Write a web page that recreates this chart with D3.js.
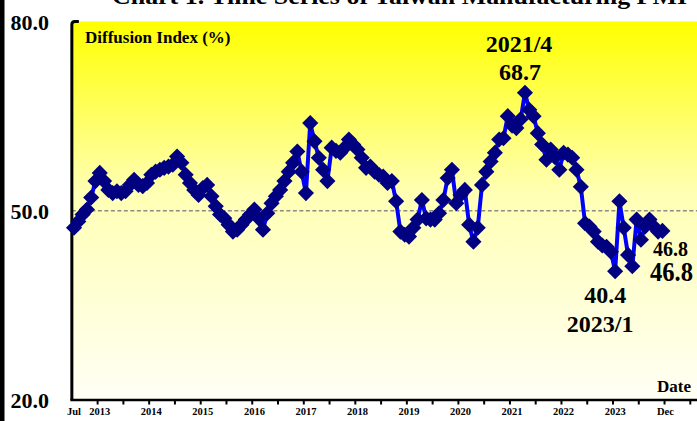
<!DOCTYPE html>
<html>
<head>
<meta charset="utf-8">
<script src="https://cdn.jsdelivr.net/npm/d3@7"></script>
<style>
  html, body { margin: 0; padding: 0; background: #ffffff; }
  svg { display: block; }
  text { font-family: "Liberation Serif", "Times New Roman", serif; font-weight: bold; fill: #000; }
</style>
</head>
<body>
<svg id="chart" width="697" height="421"></svg>
<script>
// ---- data (monthly, Jul 2012 .. Dec 2023) ----
const startLabel = "2012/7";
const pmi = [
  47.3, 48.3, 49.4, 50.2, 52.1, 54.7,                   // 2012 Jul-Dec
  56.0, 54.7, 53.3, 52.8, 53.1, 52.8, 53.1, 54.1, 54.9, 54.1, 53.9, 54.4, // 2013
  55.7, 56.2, 56.5, 56.8, 57.0, 57.3, 58.6, 57.6, 55.7, 54.4, 53.3, 52.5, // 2014
  53.6, 54.1, 52.3, 50.7, 49.4, 48.8, 47.8, 46.7, 47.0, 47.8, 48.6, 49.4, // 2015
  50.2, 48.8, 47.0, 49.6, 51.2, 52.3, 53.3, 54.7, 56.2, 57.6, 59.4, 56.2, // 2016
  52.8, 63.9, 61.0, 58.4, 56.5, 54.7, 60.0, 59.5, 59.2, 60.0, 61.3, 60.5, // 2017
  59.7, 58.4, 56.8, 57.0, 56.2, 55.7, 55.4, 54.4, 54.7, 51.5, 46.7, 46.2, // 2018
  45.9, 47.3, 48.6, 51.7, 48.8, 48.6, 48.6, 49.6, 51.7, 55.2, 56.5, 51.2, // 2019
  52.5, 53.3, 47.8, 45.1, 47.3, 54.1, 56.2, 57.8, 59.2, 61.3, 61.5, 65.0, // 2020
  63.5, 63.1, 64.5, 68.7, 66.0, 65.0, 62.3, 60.5, 58.1, 59.7, 58.5, 56.5, // 2021
  59.2, 58.9, 58.4, 56.5, 53.8, 48.0, 47.5, 46.7, 45.1, 44.5, 44.3, 43.5, // 2022
  40.4, 51.5, 47.3, 43.0, 41.2, 48.6, 45.4, 47.5, 48.6, 47.5, 46.7, 46.8  // 2023
];
const xLabels = ["Jul", "2013", "2014", "2015", "2016", "2017", "2018", "2019", "2020", "2021", "2022", "2023", "Dec"];
const xLabelIndex = [0, 6, 18, 30, 42, 54, 66, 78, 90, 102, 114, 126, 137];
const yTicks = [20, 50, 80];
const yTickLabels = ["20.0", "50.0", "80.0"];
const refLevel = 50;
const peakIndex = 105, peakLabel = "2021/4";
const troughIndex = 126, troughLabel = "2023/1";
const lastIndex = pmi.length - 1;

const W = 697, H = 421;
const svg = d3.select("#chart");

const x = d3.scaleLinear().domain([0, 137]).range([74, 662.4]);
const y = d3.scaleLinear().domain([20, 80]).range([400, 21.5]);

// gradient
const defs = svg.append("defs");
const grad = defs.append("linearGradient").attr("id", "bg").attr("x1", 0).attr("y1", 0).attr("x2", 0).attr("y2", 1);
grad.append("stop").attr("offset", "0%").attr("stop-color", "#ffff00");
grad.append("stop").attr("offset", "45%").attr("stop-color", "#ffffb4");
grad.append("stop").attr("offset", "100%").attr("stop-color", "#fffff6");

// title (clipped at top)
svg.append("text")
  .attr("x", 112).attr("y", 4)
  .attr("font-size", 24)
  .attr("textLength", 575).attr("lengthAdjust", "spacingAndGlyphs")
  .text("Chart 1. Time Series of Taiwan Manufacturing PMI");

// left black bar
svg.append("rect").attr("x", 0).attr("y", 0).attr("width", 4.5).attr("height", H).attr("fill", "#000");

// plot background
const x0 = x(-0.5);
svg.append("rect")
  .attr("x", x0).attr("y", y(80))
  .attr("width", W - x0).attr("height", y(20) - y(80))
  .attr("fill", "url(#bg)");

// reference dashed line at 50
svg.append("line")
  .attr("x1", x0).attr("x2", W)
  .attr("y1", y(refLevel)).attr("y2", y(refLevel))
  .attr("stroke", "#8a8a80").attr("stroke-width", 1.6)
  .attr("stroke-dasharray", "4,2.5");

// axes frame
svg.append("path")
  .attr("d", `M${x0},${y(20)} V${y(80) + 3} Q${x0},${y(80)} ${x0 + 3},${y(80)} H${x0 + 7}`)
  .attr("fill", "none").attr("stroke", "#000").attr("stroke-width", 3);
svg.append("line")
  .attr("x1", x0 - 1.5).attr("x2", W)
  .attr("y1", y(20)).attr("y2", y(20))
  .attr("stroke", "#000").attr("stroke-width", 2.6);

// x ticks every 6 months (at month boundaries)
const tickIdx = d3.range(5.5, 146, 6);
svg.selectAll(".xt").data(tickIdx).enter().append("line")
  .attr("x1", d => x(d)).attr("x2", d => x(d))
  .attr("y1", y(20)).attr("y2", y(20) + 4.5)
  .attr("stroke", "#000").attr("stroke-width", 2);

// x labels
svg.selectAll(".xl").data(xLabels).enter().append("text")
  .attr("x", (d, i) => x(xLabelIndex[i]) + (i === xLabels.length - 1 ? 3 : 0))
  .attr("y", 415)
  .attr("text-anchor", "middle")
  .attr("font-size", 10.5)
  .text(d => d);
svg.append("text")
  .attr("x", x(0)).attr("y", 428)
  .attr("text-anchor", "middle").attr("font-size", 10.5)
  .text(startLabel.split("/")[0]);

// y labels
svg.selectAll(".yl").data(yTicks).enter().append("text")
  .attr("x", 49)
  .attr("y", d => y(d) + 8)
  .attr("text-anchor", "end")
  .attr("font-size", 22)
  .text((d, i) => yTickLabels[i]);

// axis titles
svg.append("text").attr("x", 85).attr("y", 43).attr("font-size", 17).text("Diffusion Index (%)");
svg.append("text").attr("x", 657).attr("y", 392).attr("font-size", 17).text("Date");

// series line
const line = d3.line().x((d, i) => x(i)).y(d => y(d));
svg.append("path")
  .datum(pmi)
  .attr("d", line)
  .attr("fill", "none")
  .attr("stroke", "#0000ff")
  .attr("stroke-width", 4)
  .attr("stroke-linejoin", "round");

// markers
const sym = d3.symbol().type(d3.symbolSquare).size(130);
svg.selectAll(".pt").data(pmi).enter().append("path")
  .attr("d", sym)
  .attr("transform", (d, i) => `translate(${x(i)},${y(d)}) rotate(45)`)
  .attr("fill", "#000080");

// annotations
svg.append("text").attr("x", x(peakIndex) - 6).attr("y", 52).attr("text-anchor", "middle").attr("font-size", 24).text(peakLabel);
svg.append("text").attr("x", x(peakIndex) - 5).attr("y", 80).attr("text-anchor", "middle").attr("font-size", 24).text(pmi[peakIndex].toFixed(1));
svg.append("text").attr("x", x(troughIndex) - 10).attr("y", 303).attr("text-anchor", "middle").attr("font-size", 24).text(pmi[troughIndex].toFixed(1));
svg.append("text").attr("x", x(troughIndex) - 15).attr("y", 332).attr("text-anchor", "middle").attr("font-size", 24).text(troughLabel);
svg.append("text").attr("x", 653).attr("y", 256).attr("font-size", 20).text(pmi[lastIndex].toFixed(1));
svg.append("text").attr("x", 650).attr("y", 281).attr("font-size", 27)
  .attr("textLength", 43).attr("lengthAdjust", "spacingAndGlyphs")
  .text(pmi[lastIndex].toFixed(1));
</script>
</body>
</html>
